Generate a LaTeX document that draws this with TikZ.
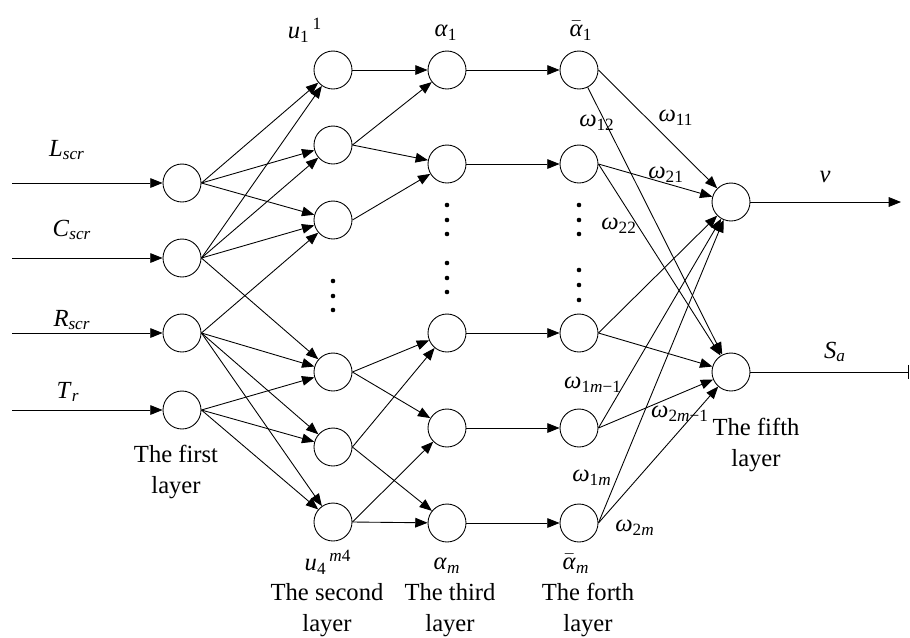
\documentclass[tikz,border=0pt]{standalone}
\usepackage{fontspec}
\setmainfont{Liberation Serif}
\usetikzlibrary{arrows.meta}
\newcommand{\abar}{$\bar{\mbox{\textit{α}}}$}

\begin{document}
\begin{tikzpicture}[x=0.02cm,y=-0.02cm,->,>={Triangle[length=7pt,width=5.5pt]},line width=0.5pt,
	main node/.style={circle,draw,minimum size=0.76cm,inner sep=0pt},
	lab/.style={font=\fontsize{14}{18}\selectfont,inner sep=0pt,align=center}]
	\useasboundingbox (0,0) rectangle (910,637);
	% the first layer
	\node[main node] (11) at (182,183) {};
	\node[main node] (12) at (182,258) {};
	\node[main node] (13) at (182,333) {};
	\node[main node] (14) at (182,410) {};
	% the second layer
	\node[main node] (21) at (333,70) {};
	\node[main node] (22) at (333,145) {};
	\node[main node] (23) at (333,220) {};
	\node[main node] (24) at (333,372) {};
	\node[main node] (25) at (333,447) {};
	\node[main node] (26) at (333,522) {};
	% the third layer
	\node[main node] (31) at (447,70) {};
	\node[main node] (32) at (447,164) {};
	\node[main node] (33) at (447,333) {};
	\node[main node] (34) at (447,428) {};
	\node[main node] (35) at (447,523) {};
	% the forth layer
	\node[main node] (41) at (579,70) {};
	\node[main node] (42) at (579,164) {};
	\node[main node] (43) at (579,333) {};
	\node[main node] (44) at (579,428) {};
	\node[main node] (45) at (579,523) {};
	% the fifth layer
	\node[main node] (51) at (731,202) {};
	\node[main node] (52) at (731,372) {};

	% inputs and outputs
	\coordinate (in1) at (12,183);
	\coordinate (in2) at (12,258);
	\coordinate (in3) at (12,333);
	\coordinate (in4) at (12,410);
	\coordinate (out1) at (901,202);
	\coordinate (out2) at (909,372);
	\foreach \i in {1,...,4}
		\draw (in\i) -- (1\i);
	\draw (51) -- (out1);
	\draw[-{Bar[width=8pt]}] (52) -- (out2);

	\path
		(11.east) edge (21) edge (22) edge (23)
		(12.east) edge (21) edge (22) edge (23) edge (24)
		(13.east) edge (23) edge (24) edge (25) edge (26)
		(14.east) edge (24) edge (25) edge (26)
		(21.east) edge (31)
		(22.east) edge (31) edge (32)
		(23.east) edge (32)
		(24.east) edge (33) edge (34)
		(25.east) edge (33) edge (35)
		(26.east) edge (35) edge (34);
	\foreach \i in {1,...,5}
		\draw (3\i) -- (4\i);
	\path
		(41.east) edge (51)
		(41) edge (52)
		(42.east) edge (51) edge (52)
		(43.east) edge (51) edge (52)
		(44.east) edge (51) edge (52)
		(45.east) edge (51) edge (52);

	% dots
	\foreach \y in {281,296,310}
		\fill (333,\y) circle (1.3pt);
	\foreach \y in {205,220,234,263,278,292}
		\fill (447,\y) circle (1.3pt);
	\foreach \y in {205,220,234,270,285,300}
		\fill (579,\y) circle (1.3pt);

	% input and output labels
	\node[lab] (lL) at (67,150) {\textit{L}\textsubscript{\textit{scr}}};
	\node[lab] (lC) at (72,230) {\textit{C}\textsubscript{\textit{scr}}};
	\node[lab] (lR) at (72,320) {\textit{R}\textsubscript{\textit{scr}}};
	\node[lab] (lT) at (68,392) {\textit{T}\textsubscript{\textit{r}}};
	\node[lab] (lv) at (825,177) {\textit{v}};
	\node[lab] (lS) at (835,352) {\textit{S}\textsubscript{\textit{a}}};

	% layer labels
	\node[lab] (u11) at (305,30) {\textit{u}\textsubscript{1}\textsuperscript{\,1}};
	\node[lab] (a1) at (446,33) {\textit{α}\textsubscript{1}};
	\node[lab] (b1) at (581,31) {\abar\textsubscript{1}};
	\node[lab] (u4m) at (328,562) {\textit{u}\textsubscript{4}\textsuperscript{\,\textit{m}4}};
	\node[lab] (am) at (447,566) {\textit{α}\textsubscript{\textit{m}}};
	\node[lab] (bm) at (576,564) {\abar\textsubscript{\textit{m}}};
	\node[lab] (first) at (176,472) {The first\\layer};
	\node[lab] (second) at (327,610) {The second\\layer};
	\node[lab] (third) at (450,610) {The third\\layer};
	\node[lab] (forth) at (588,610) {The forth\\layer};
	\node[lab] (fifth) at (756,445) {The fifth\\layer};

	% weights
	\node[lab] (w11) at (676,118) {\textit{ω}\textsubscript{11}};
	\node[lab] (w12) at (597,123) {\textit{ω}\textsubscript{12}};
	\node[lab] (w21) at (666,175) {\textit{ω}\textsubscript{21}};
	\node[lab] (w22) at (619,226) {\textit{ω}\textsubscript{22}};
	\node[lab] (w1m1) at (593,385) {\textit{ω}\textsubscript{1\textit{m}−1}};
	\node[lab] (w2m1) at (680,414) {\textit{ω}\textsubscript{2\textit{m}−1}};
	\node[lab] (w1m) at (592,478) {\textit{ω}\textsubscript{1\textit{m}}};
	\node[lab] (w2m) at (635,528) {\textit{ω}\textsubscript{2\textit{m}}};
\end{tikzpicture}
\end{document}
